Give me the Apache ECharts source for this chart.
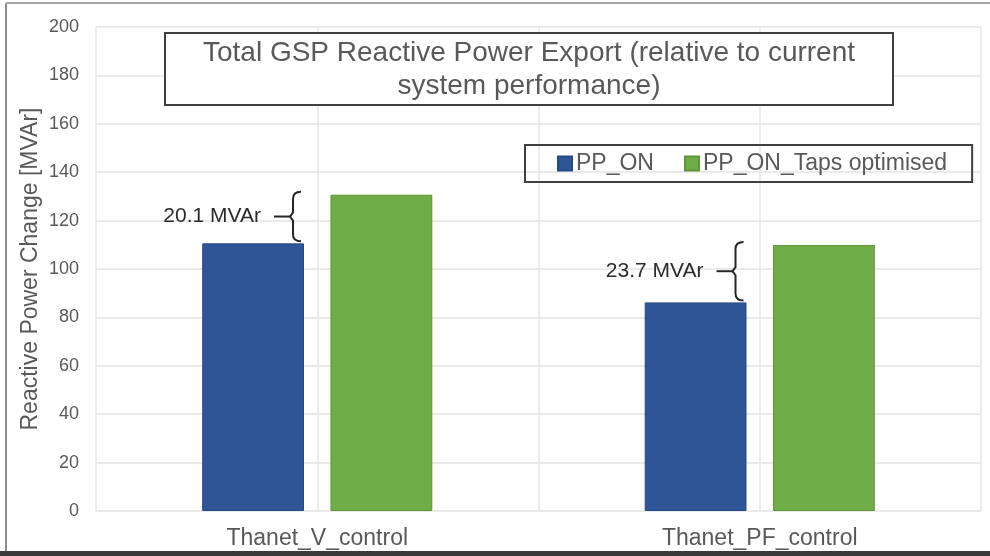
<!DOCTYPE html>
<html>
<head>
<meta charset="utf-8">
<script src="https://cdn.jsdelivr.net/npm/echarts@6/dist/echarts.min.js"></script>
<style>
  html, body { margin: 0; padding: 0; background: #fff; }
  #chart { width: 990px; height: 556px; }
</style>
</head>
<body>
<div id="chart"></div>
<script>
  // values
  var categories = ['Thanet_V_control', 'Thanet_PF_control'];
  var seriesNames = ['PP_ON', 'PP_ON_Taps optimised'];
  var ppOn = [110.6, 86.2];
  var ppOnTaps = [130.7, 109.9];
  var diffLabels = ['20.1 MVAr', '23.7 MVAr'];
  var titleLines = ['Total GSP Reactive Power Export (relative to current', 'system performance)'];
  var yName = 'Reactive Power Change [MVAr]';

  var FONT = 'Liberation Sans, Arial, sans-serif';
  var catGap = 0.48, barGap = 0.26;

  var chart = echarts.init(document.getElementById('chart'));

  // brace between the two bars of a category, built from the data
  function renderBrace(params, api) {
    var cat = api.value(0);
    var lo = api.value(1);
    var hi = api.value(2);
    var band = api.size([1, 0])[0];
    var barW = band * (1 - catGap) / (2 + barGap);
    var pLo = api.coord([cat, lo]);
    var pHi = api.coord([cat, hi]);
    var x = pLo[0] - barGap / 2 * barW - 11;
    var y1 = pHi[1] - 3;
    var y2 = pLo[1] - 2;
    var ym = (y1 + y2) / 2;
    var path = 'M' + (x + 8) + ' ' + y1 + ' Q' + x + ' ' + y1 + ' ' + x + ' ' + (y1 + 7) +
      ' L' + x + ' ' + (ym - 4) + ' L' + (x - 3) + ' ' + ym + ' L' + x + ' ' + (ym + 4) +
      ' L' + x + ' ' + (y2 - 7) + ' Q' + x + ' ' + y2 + ' ' + (x + 8) + ' ' + y2;
    return {
      type: 'group',
      children: [
        { type: 'path', shape: { pathData: path }, style: { fill: 'none', stroke: '#262626', lineWidth: 2 } },
        { type: 'line', shape: { x1: x - 19, y1: ym, x2: x - 3, y2: ym }, style: { stroke: '#262626', lineWidth: 2 } },
        {
          type: 'text',
          style: {
            text: diffLabels[params.dataIndex], x: x - 32, y: ym,
            align: 'right', verticalAlign: 'middle',
            fill: '#2b2b2b', font: '21px ' + FONT
          }
        }
      ]
    };
  }

  var option = {
    animation: false,
    backgroundColor: '#fff',
    textStyle: { fontFamily: FONT },
    grid: { left: 96, right: 9, top: 27, bottom: 45 },
    legend: {
      data: seriesNames,
      left: 525,
      top: 145,
      padding: [7, 25, 7, 32],
      borderColor: '#404040',
      borderWidth: 2,
      itemWidth: 14,
      itemHeight: 14,
      itemGap: 30,
      icon: 'rect',
      textStyle: { color: '#595959', fontSize: 23, fontFamily: FONT, padding: [0, 0, 0, -1] }
    },
    xAxis: [{
      type: 'category',
      data: categories,
      axisLine: { show: false },
      axisTick: { show: false },
      axisLabel: { color: '#595959', fontSize: 23, margin: 16, fontFamily: FONT }
    }, {
      // faint vertical lines behind the plot
      type: 'value',
      min: 0, max: 4, interval: 1,
      position: 'bottom',
      axisLine: { show: false },
      axisTick: { show: false },
      axisLabel: { show: false },
      splitLine: { show: true, lineStyle: { color: '#e6e6e6', width: 1.5 } }
    }],
    yAxis: {
      type: 'value',
      min: 0, max: 200, interval: 20,
      name: yName,
      nameLocation: 'middle',
      nameGap: 54,
      nameMoveOverlap: false,
      nameTextStyle: { color: '#595959', fontSize: 23, fontFamily: FONT },
      axisLine: { show: false },
      axisTick: { show: false },
      axisLabel: { color: '#595959', fontSize: 18, margin: 17, fontFamily: FONT },
      splitLine: { lineStyle: { color: '#e3e3e3', width: 1.5 } }
    },
    series: [{
      name: seriesNames[0],
      type: 'bar',
      data: ppOn,
      barGap: (barGap * 100) + '%',
      barCategoryGap: (catGap * 100) + '%',
      itemStyle: { color: '#2f5597', borderColor: '#264a85', borderWidth: 1 }
    }, {
      name: seriesNames[1],
      type: 'bar',
      data: ppOnTaps,
      itemStyle: { color: '#70ad47', borderColor: '#5b9538', borderWidth: 1 }
    }, {
      type: 'custom',
      renderItem: renderBrace,
      data: categories.map(function (c, i) { return [i, ppOn[i], ppOnTaps[i]]; }),
      z: 5,
      silent: true
    }],
    graphic: [
      // outer frame
      { type: 'line', shape: { x1: 6, y1: 3, x2: 6, y2: 552 }, style: { stroke: '#8c8c8c', lineWidth: 2 } },
      { type: 'line', shape: { x1: 6, y1: 3, x2: 990, y2: 3 }, style: { stroke: '#a6a6a6', lineWidth: 2 } },
      { type: 'rect', shape: { x: 0, y: 551, width: 990, height: 5 }, style: { fill: '#3a3a3a' } },
      // title box
      {
        type: 'rect', shape: { x: 165, y: 33, width: 728, height: 72 },
        style: { fill: '#fff', stroke: '#404040', lineWidth: 2 }, z: 10
      },
      {
        type: 'text', z: 11,
        style: {
          text: titleLines.join('\n'), x: 529, y: 70,
          align: 'center', verticalAlign: 'middle', lineHeight: 33,
          fill: '#595959', font: '28px ' + FONT
        }
      }
    ]
  };

  chart.setOption(option);
  window.addEventListener('resize', function () {
    chart.resize();
  });
</script>
</body>
</html>
